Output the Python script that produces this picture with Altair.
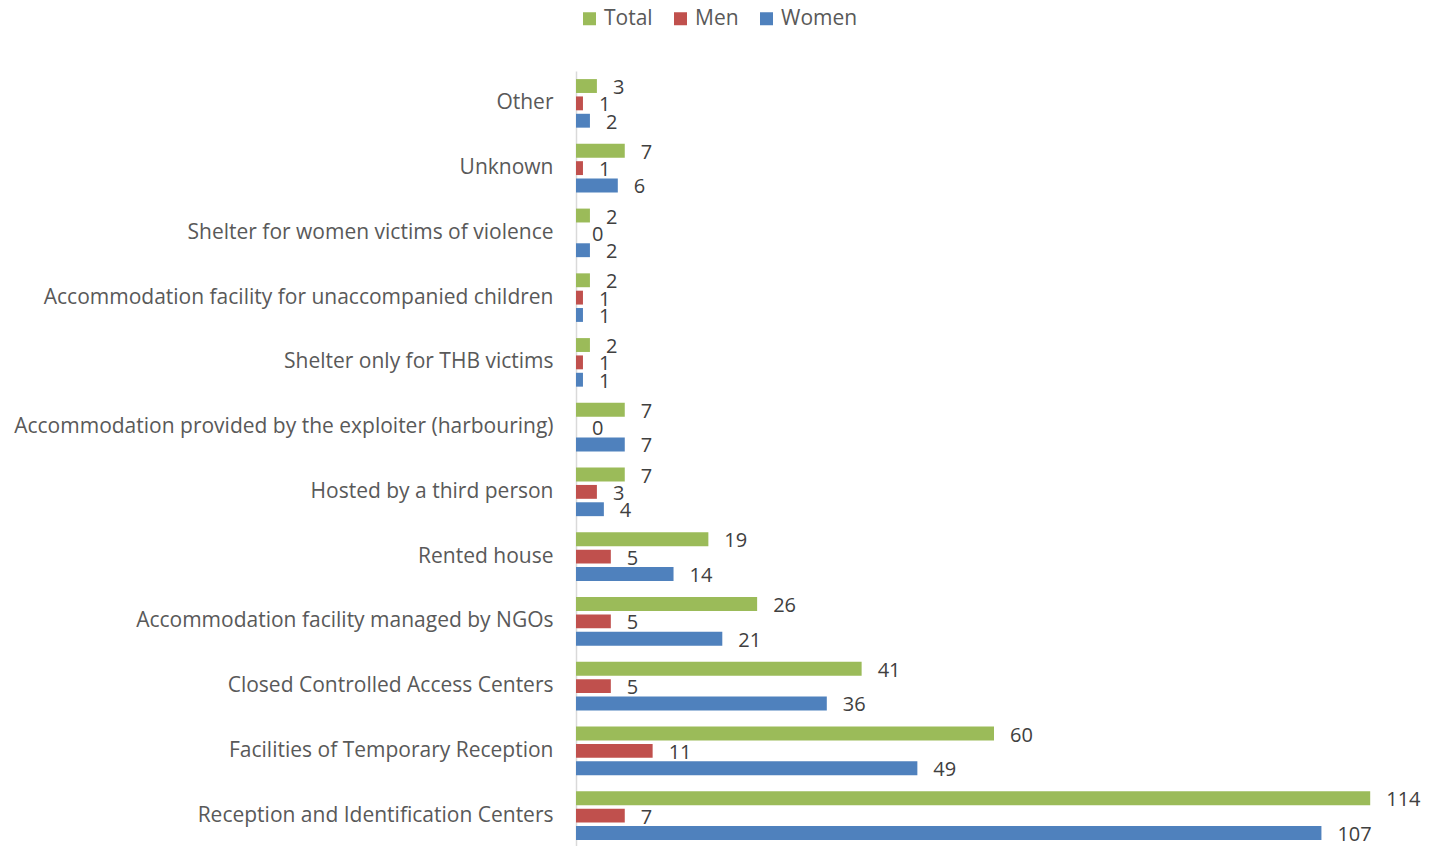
import altair as alt
import pandas as pd

NBSP = "\u00a0"
# category names as in the source (some carry a trailing space)
categories = [
    "Other",
    "Unknown",
    "Shelter for women victims of violence",
    "Accommodation facility for unaccompanied children" + NBSP,
    "Shelter only for THB victims",
    "Accommodation provided by the exploiter (harbouring)" + NBSP,
    "Hosted by a third person" + NBSP,
    "Rented house",
    "Accommodation facility managed by NGOs",
    "Closed Controlled Access Centers" + NBSP,
    "Facilities of Temporary Reception" + NBSP,
    "Reception and Identification Centers" + NBSP,
]
total = [3, 7, 2, 2, 2, 7, 7, 19, 26, 41, 60, 114]
men = [1, 1, 0, 1, 1, 0, 3, 5, 5, 5, 11, 7]
women = [2, 6, 2, 1, 1, 7, 4, 14, 21, 36, 49, 107]
series = ["Total", "Men", "Women"]
colors = ["#9BBB59", "#C0504D", "#4F81BD"]

rows = []
for i, c in enumerate(categories):
    for s, vals in zip(series, [total, men, women]):
        rows.append({"Category": c, "Series": s, "Value": vals[i]})
df = pd.DataFrame(rows)

FONT = "Open Sans"

y = alt.Y("Category:N", sort=categories, title=None,
          scale=alt.Scale(paddingInner=0.25, paddingOuter=0.125),
          axis=alt.Axis(labelFontSize=21, labelColor="#595959", labelFont=FONT,
                        ticks=False, labelPadding=23, domainColor="#D9D9D9",
                        domainWidth=1.5, labelLimit=700))
x = alt.X("Value:Q", title=None, scale=alt.Scale(domain=[0, 120], nice=False),
          axis=None)
yoff = alt.YOffset("Series:N", sort=series, scale=alt.Scale(domain=series, paddingInner=0.2))

bars = alt.Chart(df).mark_bar().encode(
    y=y, x=x, yOffset=yoff,
    color=alt.Color("Series:N", sort=series,
                    scale=alt.Scale(domain=series, range=colors),
                    legend=alt.Legend(title=None, orient="none", direction="horizontal",
                                      legendX=3, legendY=-63, symbolType="square",
                                      symbolSize=169, symbolStrokeWidth=0,
                                      labelFontSize=21, labelColor="#595959",
                                      labelFont=FONT, columnPadding=17,
                                      labelOffset=4)),
)
labels = alt.Chart(df).mark_text(align="left", dx=16, dy=2, fontSize=20,
                                 color="#404040", font=FONT).encode(
    y=y, x=x, yOffset=yoff, text="Value:Q")

chart = (bars + labels).properties(
    width=836, height=777,
    background="white",
    autosize=alt.AutoSizeParams(type="none"),
    padding={"left": 568, "top": 63, "right": 10, "bottom": 0},
).configure_view(strokeWidth=0, stroke="transparent")

chart.save("out.html", embed_options={"renderer": "svg", "actions": False})
